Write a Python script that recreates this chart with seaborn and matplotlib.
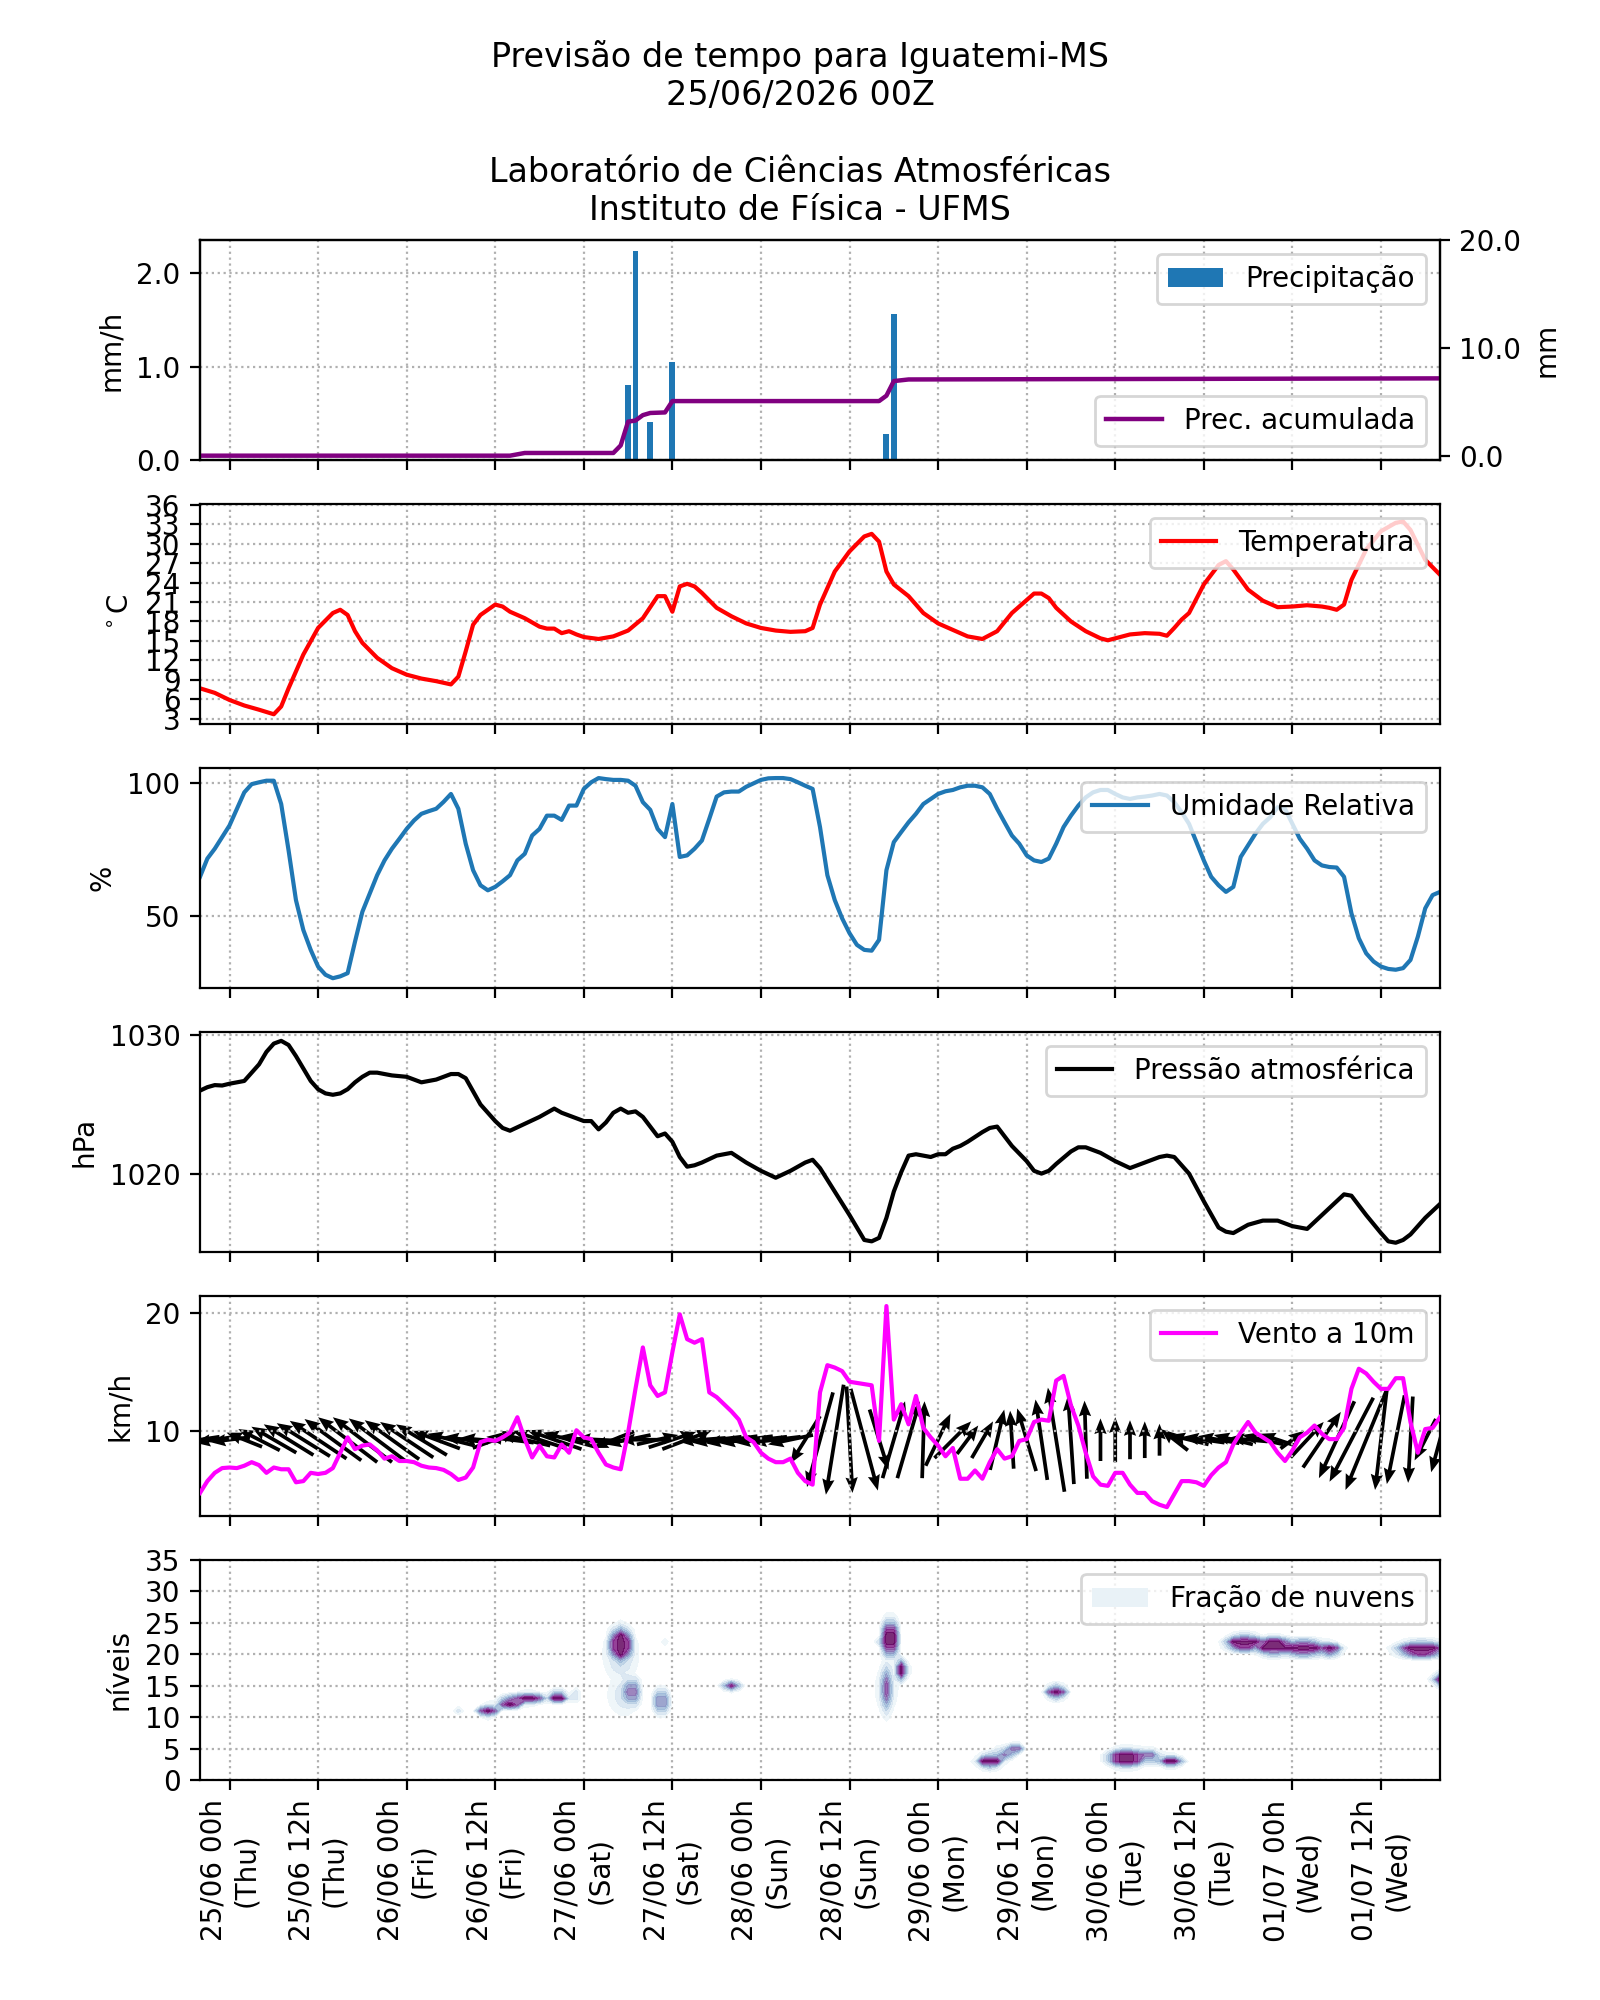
import numpy as np
import matplotlib
matplotlib.use("Agg")
import matplotlib.pyplot as plt
from matplotlib.patches import Patch
import seaborn as sns

plt.rcParams['font.family'] = ['DejaVu Sans']

# ---------------- data (hours relative to 25/06 00h local) ----------------
tick_hours = [0, 12, 24, 36, 48, 60, 72, 84, 96, 108, 120, 132, 144, 156]
tick_labels = ["25/06 00h\n(Thu)", "25/06 12h\n(Thu)", "26/06 00h\n(Fri)", "26/06 12h\n(Fri)",
               "27/06 00h\n(Sat)", "27/06 12h\n(Sat)", "28/06 00h\n(Sun)", "28/06 12h\n(Sun)",
               "29/06 00h\n(Mon)", "29/06 12h\n(Mon)", "30/06 00h\n(Tue)", "30/06 12h\n(Tue)",
               "01/07 00h\n(Wed)", "01/07 12h\n(Wed)"]

precip_h = [54, 55, 57, 60, 89, 90]
precip_v = [0.80, 2.24, 0.41, 1.05, 0.28, 1.56]

cum_h = [-4, 38, 40, 52, 53, 54, 55, 56, 57, 59, 60, 88, 89, 90, 92, 164]
cum_v = [0.05, 0.05, 0.3, 0.3, 1.0, 3.2, 3.3, 3.8, 4.0, 4.05, 5.1, 5.1, 5.6, 6.95, 7.1, 7.2]

temp_h = [-4, -2, 0, 2, 4, 6, 7, 8, 10, 12, 14, 15, 16, 17, 18, 20, 22, 24, 26, 28, 30, 31, 32, 33,
          34, 35, 36, 37, 38, 40, 42, 43, 44, 45, 46, 47, 48, 50, 52, 54, 56, 58, 59, 60, 61, 62, 63,
          64, 66, 68, 70, 72, 74, 76, 78, 79, 80, 82, 84, 86, 87, 88, 89, 90, 92, 94, 96, 98, 100,
          102, 104, 106, 108, 109, 110, 111, 112, 114, 116, 118, 119, 120, 122, 124, 126, 127, 128,
          129, 130, 132, 134, 135, 136, 138, 140, 142, 144, 146, 148, 149, 150, 151, 152, 154, 156,
          158, 159, 160, 162, 164]
temp_v = [7.7, 7.0, 5.9, 5.05, 4.4, 3.7, 4.9, 7.7, 12.9, 17.0, 19.3, 19.8, 19.0, 16.5, 14.7, 12.4,
          10.8, 9.8, 9.2, 8.8, 8.3, 9.5, 13.4, 17.5, 19.0, 19.8, 20.6, 20.3, 19.5, 18.5, 17.2, 16.9,
          16.9, 16.2, 16.5, 16.0, 15.6, 15.3, 15.7, 16.6, 18.5, 21.9, 21.9, 19.5, 23.4, 23.8, 23.4,
          22.4, 20.1, 18.8, 17.7, 17.0, 16.6, 16.4, 16.5, 17.0, 20.6, 25.7, 28.8, 31.1, 31.5, 30.3,
          25.7, 23.7, 21.9, 19.3, 17.7, 16.7, 15.7, 15.3, 16.5, 19.3, 21.3, 22.3, 22.3, 21.6, 20.1,
          18.0, 16.5, 15.4, 15.1, 15.4, 16.0, 16.2, 16.1, 15.8, 17.0, 18.3, 19.3, 23.7, 26.7, 27.3,
          26.0, 22.9, 21.2, 20.2, 20.3, 20.5, 20.3, 20.1, 19.8, 20.6, 24.4, 29.1, 31.9, 33.2, 33.4,
          32.1, 27.5, 25.2]

hourly_h = list(range(-4, 165))
rh_v = [64.7, 71.6, 75.3, 79.7, 84.1, 90.4, 96.6, 99.7, 100.4, 101.0, 101.0, 92.2, 74.7, 55.9, 44.6,
        37.1, 30.8, 27.7, 26.4, 27.1, 28.3, 40.2, 51.5, 58.4, 65.3, 70.9, 75.3, 79.0, 82.8, 86.0,
        88.5, 89.5, 90.4, 93.0, 96.0, 90.4, 77.2, 67.2, 61.5, 59.6, 60.9, 63.0, 65.3, 70.9, 73.4,
        80.3, 82.8, 87.8, 87.8, 86.2, 91.6, 91.6, 97.9, 100.4, 102.0, 101.6, 101.3, 101.3, 101.0,
        99.1, 92.9, 90.0, 82.8, 79.7, 92.2, 72.2, 72.8, 75.3, 78.4, 86.6, 95.0, 96.6, 96.9, 96.9,
        98.7, 100.0, 101.3, 101.9, 102.0, 102.0, 101.6, 100.4, 99.1, 97.9, 83.5, 65.3, 55.9, 49.0,
        43.4, 39.0, 37.1, 36.8, 40.9, 67.2, 77.8, 81.6, 85.3, 88.5, 92.2, 94.1, 96.0, 97.0, 97.5,
        98.5, 99.1, 99.1, 98.5, 96.0, 90.4, 85.3, 80.3, 77.2, 72.8, 70.9, 70.3, 71.6, 77.2, 83.5,
        87.8, 91.6, 94.7, 96.6, 97.5, 97.5, 96.0, 94.7, 94.1, 94.7, 95.0, 95.4, 96.0, 95.4, 92.9,
        89.1, 84.7, 77.8, 70.9, 64.7, 61.5, 59.0, 60.9, 72.2, 76.6, 81.0, 84.7, 87.2, 91.0, 90.4,
        84.7, 79.1, 75.3, 70.9, 69.0, 68.4, 68.2, 64.7, 50.9, 41.5, 35.8, 32.7, 30.8, 29.9, 29.6,
        30.2, 33.3, 42.1, 52.8, 57.8, 59.0]

pres_h = [-4, -3, -2, -1, 0, 1, 2, 3, 4, 5, 6, 7, 8, 9, 10, 11, 12, 13, 14, 15, 16, 17, 18, 19, 20,
          22, 24, 26, 28, 30, 31, 32, 34, 36, 37, 38, 40, 42, 44, 45, 46, 48, 49, 50, 51, 52, 53, 54,
          55, 56, 58, 59, 60, 61, 62, 63, 64, 66, 68, 70, 72, 74, 76, 78, 79, 80, 82, 84, 86, 87, 88,
          89, 90, 91, 92, 93, 94, 95, 96, 97, 98, 99, 100, 102, 103, 104, 105, 106, 108, 109, 110,
          111, 112, 114, 115, 116, 118, 120, 122, 124, 126, 127, 128, 130, 132, 134, 135, 136, 138,
          140, 142, 144, 145, 146, 148, 150, 151, 152, 154, 156, 157, 158, 159, 160, 162, 164]
pres_v = [1026.0, 1026.25, 1026.4, 1026.37, 1026.5, 1026.6, 1026.7, 1027.3, 1027.9, 1028.8, 1029.4,
          1029.6, 1029.3, 1028.5, 1027.6, 1026.7, 1026.1, 1025.8, 1025.7, 1025.8, 1026.1, 1026.6,
          1027.0, 1027.3, 1027.3, 1027.1, 1027.0, 1026.6, 1026.8, 1027.2, 1027.2, 1026.9, 1025.0,
          1023.8, 1023.3, 1023.1, 1023.6, 1024.1, 1024.7, 1024.4, 1024.2, 1023.8, 1023.8, 1023.2,
          1023.7, 1024.4, 1024.7, 1024.4, 1024.5, 1024.1, 1022.7, 1022.9, 1022.3, 1021.2, 1020.5,
          1020.6, 1020.8, 1021.3, 1021.5, 1020.8, 1020.2, 1019.7, 1020.2, 1020.8, 1021.0, 1020.4,
          1018.7, 1017.0, 1015.2, 1015.1, 1015.35, 1016.8, 1018.7, 1020.1, 1021.3, 1021.4, 1021.3,
          1021.2, 1021.4, 1021.4, 1021.8, 1022.0, 1022.3, 1023.0, 1023.3, 1023.4, 1022.7, 1022.0,
          1020.9, 1020.2, 1020.0, 1020.2, 1020.7, 1021.6, 1021.9, 1021.9, 1021.5, 1020.9, 1020.4,
          1020.8, 1021.2, 1021.3, 1021.2, 1020.0, 1018.0, 1016.1, 1015.8, 1015.7, 1016.3, 1016.6,
          1016.6, 1016.2, 1016.1, 1016.0, 1017.0, 1018.0, 1018.5, 1018.4, 1017.0, 1015.7, 1015.1,
          1015.0, 1015.2, 1015.6, 1016.8, 1017.8]

wind_v = [4.8, 5.8, 6.5, 6.9, 6.95, 6.9, 7.1, 7.4, 7.15, 6.5, 6.95, 6.8, 6.8, 5.7, 5.8, 6.5, 6.4,
          6.5, 6.9, 8.2, 9.5, 8.5, 8.8, 8.9, 8.4, 7.7, 7.9, 7.5, 7.5, 7.4, 7.1, 6.95, 6.9, 6.75, 6.4,
          5.9, 6.1, 6.95, 9.1, 9.3, 9.2, 9.5, 9.9, 11.2, 9.35, 7.8, 8.8, 7.9, 7.8, 8.9, 8.2, 10.1,
          9.5, 9.35, 8.2, 7.2, 6.95, 6.8, 9.9, 13.6, 17.1, 13.9, 13.0, 13.3, 16.7, 19.9, 17.8, 17.5,
          17.8, 13.3, 12.9, 12.3, 11.7, 11.0, 9.5, 9.1, 8.2, 7.7, 7.4, 7.4, 7.7, 6.5, 5.8, 5.5, 13.3,
          15.6, 15.4, 15.1, 14.2, 14.1, 14.0, 13.9, 9.2, 20.6, 11.0, 12.3, 10.6, 13.0, 10.3, 9.5, 8.8,
          7.9, 8.6, 6.0, 6.0, 6.7, 6.0, 7.4, 8.5, 7.7, 7.9, 9.2, 9.35, 10.8, 11.0, 10.9, 14.3, 14.7,
          12.2, 10.5, 8.2, 6.2, 5.5, 5.4, 6.5, 6.5, 5.5, 4.8, 4.8, 4.1, 3.8, 3.6, 4.7, 5.8, 5.8, 5.7,
          5.4, 6.3, 6.95, 7.4, 8.9, 9.9, 10.8, 9.9, 9.5, 9.1, 8.2, 7.5, 8.4, 9.5, 9.9, 10.5, 9.8,
          9.35, 9.35, 10.3, 13.6, 15.3, 14.9, 14.2, 13.6, 13.6, 14.5, 14.5, 10.8, 8.2, 10.2, 10.3,
          11.2]

arrow_h = list(range(-4, 165, 2))
arrow_u = [-3.3, -3.4, -3.3,
           -3.0, -3.5, -3.8, -4.2, -4.5, -4.8,
           -4.8, -5.0, -5.0, -4.8, -4.6, -4.5, -4.3,
           -4.0, -4.0, -3.8, -3.5,
           3.8,
           -4.0, -4.3, -4.6, -4.6, -4.4, -4.2, -4.0,
           -3.5, -3.8,
           -4.0,
           3.5, 4.0, 4.2,
           -4.0, -4.2, -4.4, -4.5, -4.4, -4.2, -3.8,
           -2.5, -2.2, -1.5, 0.5, 2.3, 1.6, 1.9, 1.9, 0.2, 2.1, 3.1, 1.8, 1.8, 1.2, -0.3, -1.6,
           -1.0, -1.4, -0.5, -0.2, 0.0, 0.0, 0.0, 0.0, 0.0, -2.3, -3.3, -3.5, -3.5, -3.3, -3.3,
           -3.5, -3.0, 2.0, 2.8, 3.2, -3.0, -3.7, -3.5, -1.0, -1.5, -0.4, -1.8, -1.5]
arrow_v = [-0.5, -0.5, -0.4,
           1.2, 1.8, 2.2, 2.6, 2.8, 3.2,
           3.5, 3.8, 3.8, 3.6, 3.3, 3.0, 2.6,
           1.5, 1.0, 0.5, 0.3,
           1.4,
           0.5, 1.0, 1.5, 1.6, 1.2, 0.6, 0.2,
           -1.4, -0.8,
           0.0,
           0.8, 1.3, 1.6,
           -0.3, -0.5, -0.6, -0.6, -0.5, -0.5, -0.8,
           -4.0, -8.0, -9.3, -9.0, -8.6, -5.1, 6.5, 6.5, 6.5, 4.4, 3.1, 2.4, 3.1, 5.1, 4.9, 5.3,
           6.8, 8.8, 7.5, 6.6, 3.6, 3.8, 3.3, 3.1, 2.7, 1.8, 0.8, 0.5, 0.6, 0.8, 0.3,
           0.8, 1.0, 1.5, 3.0, 4.7, -6.5, -7.1, -8.5, -8.5, -7.5, -7.3, -3.5, -5.5]
ARROW_BASE = 9.3

# cloud fraction cells: centre hour, centre level, spread (h), spread (level), peak fraction
cloud_h = [53, 53, 54.5, 53.5, 58.5, 58.8, 68, 31, 35, 38, 40.5, 44.5, 47,
           89.5, 88, 91, 89, 103, 105, 106.5, 112, 121.5, 124.5, 127.5,
           137.5, 141.5, 145.5, 149, 161.5, 164]
cloud_lev = [21.5, 20, 14, 13.5, 12.5, 22, 15, 11.2, 11, 12.3, 13, 13.2, 13.5,
             22.5, 22, 17.5, 14.5, 3, 4.2, 5.2, 14, 3.5, 3.8, 3.0,
             21.8, 21.3, 21.0, 20.8, 20.8, 16]
cloud_dh = [0.9, 1.5, 0.5, 1.5, 0.6, 0.4, 0.8, 0.5, 0.8, 1.0, 1.5, 0.8, 0.3,
            0.6, 0.3, 0.5, 0.6, 1.0, 1.0, 0.6, 0.8, 1.5, 1.0, 1.0,
            1.5, 1.5, 1.8, 1.0, 2.0, 0.6]
cloud_dlev = [1.6, 3.0, 1.5, 2.2, 1.3, 0.6, 0.5, 0.4, 0.5, 0.5, 0.5, 0.5, 0.8,
              1.8, 0.4, 1.0, 2.5, 0.6, 0.6, 0.4, 0.6, 0.8, 0.7, 0.5,
              0.7, 0.8, 0.7, 0.6, 0.7, 0.6]
cloud_peak = [1.6, 0.35, 1.1, 0.3, 0.9, 0.2, 0.9, 0.3, 1.5, 1.5, 1.2, 1.4, 0.3,
              1.6, 0.3, 1.3, 0.8, 1.5, 0.7, 1.1, 1.5, 1.6, 0.8, 1.3,
              1.6, 1.6, 1.6, 1.3, 1.6, 1.3]

# ---------------- figure ----------------
fig, axes = plt.subplots(6, 1, figsize=(8, 10), dpi=200, sharex=True)
ax1, ax2, ax3, ax4, ax5, ax6 = axes

fig.suptitle("Previsão de tempo para Iguatemi-MS\n25/06/2026 00Z\n\n"
             "Laboratório de Ciências Atmosféricas\nInstituto de Física - UFMS", fontsize=12)

grid_kw = dict(linestyle=':', color='#b0b0b0', linewidth=0.8)
LW = 1.5

# Panel 1: precipitation
ax1.bar(precip_h, precip_v, width=0.8, color='#1f77b4', label='Precipitação', zorder=2)
ax1.set_ylabel('mm/h')
ax1.set_yticks([0.0, 1.0, 2.0])
ax1.yaxis.set_major_formatter(matplotlib.ticker.FormatStrFormatter('%.1f'))
ax1.set_ylim(0, 2.354)
ax1.grid(True, **grid_kw)
ax1.legend(loc='upper right')
ax1b = ax1.twinx()
sns.lineplot(x=cum_h, y=cum_v, ax=ax1b, color='purple', linewidth=1.6, label='Prec. acumulada')
ax1b.set_ylim(-0.35, 20)
ax1b.set_yticks([0, 10, 20])
ax1b.yaxis.set_major_formatter(matplotlib.ticker.FormatStrFormatter('%.1f'))
ax1b.set_ylabel('mm')
ax1b.legend(loc='lower right')

# Panel 2: temperature
sns.lineplot(x=temp_h, y=temp_v, ax=ax2, color='red', linewidth=LW, label='Temperatura')
ax2.set_yticks(list(range(3, 37, 3)))
ax2.set_ylim(2.2, 36.1)
ax2.set_ylabel(r'$^\circ$C')
ax2.grid(True, **grid_kw)
ax2.legend(loc='upper right')

# Panel 3: relative humidity
sns.lineplot(x=hourly_h, y=rh_v, ax=ax3, color='#1f77b4', linewidth=LW, label='Umidade Relativa')
ax3.set_ylim(22.7, 105.8)
ax3.set_yticks([50, 100])
ax3.set_ylabel('%')
ax3.grid(True, **grid_kw)
ax3.legend(loc='upper right')

# Panel 4: pressure
sns.lineplot(x=pres_h, y=pres_v, ax=ax4, color='black', linewidth=LW, label='Pressão atmosférica')
ax4.set_ylim(1014.33, 1030.24)
ax4.set_yticks([1020, 1030])
ax4.set_ylabel('hPa')
ax4.grid(True, **grid_kw)
ax4.legend(loc='upper right')

# Panel 5: wind
ax5.quiver(arrow_h, np.full(len(arrow_h), ARROW_BASE), arrow_u, arrow_v, angles='uv',
           scale_units='y', scale=1, pivot='middle', width=0.003, headwidth=3.3,
           headlength=4.2, headaxislength=3.8, color='black', zorder=1.5)
sns.lineplot(x=hourly_h, y=wind_v, ax=ax5, color='magenta', linewidth=LW, label='Vento a 10m', zorder=3)
ax5.set_ylim(2.85, 21.45)
ax5.set_yticks([10, 20])
ax5.set_ylabel('km/h')
ax5.grid(True, **grid_kw)
ax5.legend(loc='upper right')

# Panel 6: cloud fraction
gh = np.arange(-4, 165, 1.0)
gl = np.arange(0, 36, 1.0)
GH, GL = np.meshgrid(gh, gl)
field = np.zeros_like(GH)
for ch, cl, sh, sl, pk in zip(cloud_h, cloud_lev, cloud_dh, cloud_dlev, cloud_peak):
    field = np.maximum(field, pk * np.exp(-0.5 * (((GH - ch) / sh) ** 2 + ((GL - cl) / sl) ** 2)))
field = np.minimum(field, 0.97)
cmap = plt.get_cmap('BuPu')
ax6.contourf(GH, GL, field, levels=np.linspace(0.1, 1.0, 10), cmap=cmap, alpha=0.85, zorder=2)
ax6.set_ylim(0, 35)
ax6.set_yticks(list(range(0, 36, 5)))
ax6.set_ylabel('níveis')
ax6.grid(True, **grid_kw)
ax6.legend(handles=[Patch(facecolor=cmap(0.08), edgecolor='none', label='Fração de nuvens')],
           loc='upper right')

for ax in axes:
    ax.set_xlim(-4, 164)
    ax.set_xlabel('')
ax6.set_xticks(tick_hours)
ax6.set_xticklabels(tick_labels, rotation=90)

fig.savefig('out.png', dpi=200)
